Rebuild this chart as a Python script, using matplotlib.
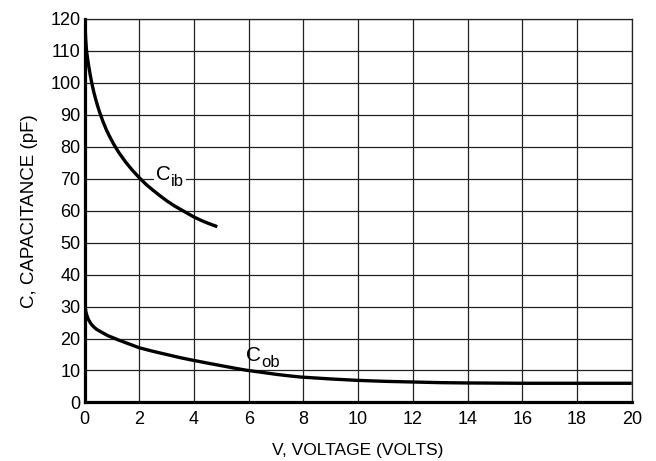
import matplotlib.pyplot as plt
import numpy as np

plt.rcParams['font.family'] = ['Liberation Sans Narrow', 'Liberation Sans', 'DejaVu Sans']

# Data
v_ib = [0.0, 0.01, 0.02, 0.04, 0.07, 0.11, 0.15, 0.2, 0.26, 0.33, 0.4, 0.47, 0.56,
        0.67, 0.8, 0.92, 1.05, 1.25, 1.5, 1.75, 2.0, 2.25, 2.5, 2.75, 3.0, 3.3,
        3.59, 4.0, 4.25, 4.5, 4.85]
c_ib = [120, 118.5, 117, 113.5, 110, 107.5, 105.2, 102.7, 100, 97.3, 95, 92.9, 90.5,
        87.9, 85.2, 83.1, 81.0, 78.2, 75.2, 72.6, 70.3, 68.2, 66.4, 64.7, 63.1, 61.4,
        60, 58, 57.0, 56.1, 55]

v_ob = [0.0, 0.01, 0.03, 0.05, 0.08, 0.14, 0.25, 0.35, 0.45, 0.7, 0.85, 1.05, 1.25,
        1.5, 1.75, 2.0, 2.5, 3.0, 3.5, 3.9, 4.5, 5.0, 5.5, 5.9, 6.5, 7.0, 7.5, 7.9,
        9.0, 10.0, 11.0, 12.0, 13.0, 14.0, 16.0, 18.0, 20.0]
c_ob = [31.0, 30.2, 29.3, 28.2, 27.3, 25.9, 24.4, 23.5, 22.8, 21.6, 20.9, 20.2, 19.5,
        18.7, 17.9, 17.1, 16.0, 15.0, 14.0, 13.3, 12.3, 11.5, 10.7, 10.1, 9.4, 8.8, 8.3, 7.95,
        7.35, 6.9, 6.6, 6.4, 6.2, 6.1, 6.0, 6.0, 6.0]

xticks = np.arange(0, 21, 2)
yticks = np.arange(0, 121, 10)

fig = plt.figure(figsize=(6.56, 4.61), dpi=100)
ax = fig.add_axes([0.129, 0.127, 0.834, 0.832])

ax.plot(v_ib, c_ib, color='black', linewidth=2.4, solid_capstyle='butt', zorder=3)
ax.plot(v_ob, c_ob, color='black', linewidth=2.4, solid_capstyle='butt', zorder=3)

ax.set_xlim(0, 20)
ax.set_ylim(0, 120)
ax.set_xticks(xticks)
ax.set_yticks(yticks)
ax.grid(True, color='#222222', linewidth=0.9)
ax.set_axisbelow(True)
ax.tick_params(axis='x', length=0, labelsize=13, pad=6)
ax.tick_params(axis='y', length=0, labelsize=13, pad=3)

for side in ['left', 'bottom']:
    ax.spines[side].set_linewidth(2.3)
for side in ['top', 'right']:
    ax.spines[side].set_linewidth(0.9)
    ax.spines[side].set_color('#222222')

ax.set_xlabel('V, VOLTAGE (VOLTS)', fontsize=12.5, labelpad=11)
ax.set_ylabel('C, CAPACITANCE (pF)', fontsize=13.5, labelpad=9)

# curve labels: "C" with a large subscript placed right after it
renderer = fig.canvas.get_renderer()
white = dict(facecolor='white', edgecolor='none', pad=1.5)
for x, y, sub, box in [(2.6, 69.6, 'ib', True), (5.9, 13.0, 'ob', False)]:
    t = ax.text(x, y, 'C', fontsize=15, ha='left', va='baseline',
                bbox=white if box else None, zorder=2.5)
    w = t.get_window_extent(renderer).width * 72 / fig.dpi
    ax.annotate(sub, xy=(x, y), xytext=(w, -4.3), textcoords='offset points',
                fontsize=12, ha='left', va='baseline',
                bbox=white if box else None, zorder=2.5)

fig.savefig('out.png', dpi=100, facecolor='white')
